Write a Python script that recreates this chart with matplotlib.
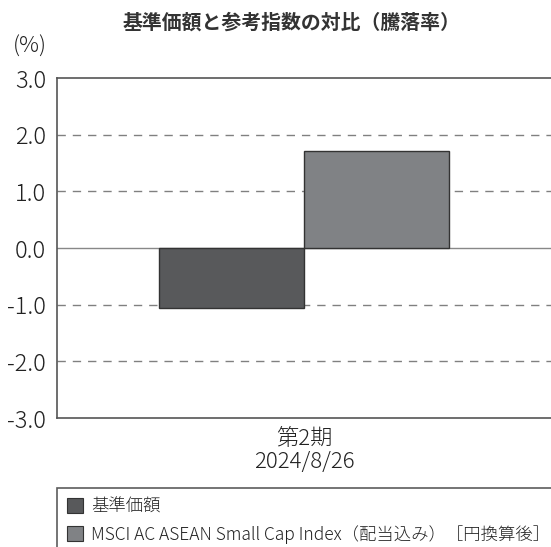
import matplotlib.pyplot as plt
from matplotlib.patches import Patch

plt.rcParams['font.family'] = ['Noto Sans CJK JP', 'DejaVu Sans']

# data
series = ['基準価額', 'MSCI AC ASEAN Small Cap Index（配当込み）［円換算後］']
values = [-1.06, 1.72]
colors = ['#58595b', '#808285']
category = '第2期\n2024/8/26'
yticks = [3.0, 2.0, 1.0, 0.0, -1.0, -2.0, -3.0]

fig = plt.figure(figsize=(5.51, 5.47), dpi=100)
ax = fig.add_axes([57 / 551, 1 - 418 / 547, 1 - 57 / 551, (418 - 78) / 547])

w = 0.587
xs = [-w / 2, w / 2]
for x, v, c in zip(xs, values, colors):
    ax.bar(x, v, width=w, color=c, edgecolor='#333333', linewidth=1.0, zorder=3)

# grid lines
for t in yticks:
    if t == 0.0:
        ax.axhline(t, color='#888888', linewidth=1.0, zorder=2)
    elif abs(t) < 3:
        ax.axhline(t, color='#808080', linewidth=1.0, dashes=(6, 5), zorder=1)

ax.set_xlim(-1, 1)
ax.set_ylim(-3, 3)
ax.set_yticks(yticks)
ax.set_yticklabels([f'{t:.1f}' for t in yticks], fontsize=17, color='#222222', fontweight='light')
ax.set_xticks([0])
ax.set_xticklabels([category], fontsize=16, color='#222222', linespacing=1.05, fontweight='light')
ax.tick_params(axis='y', length=0, pad=8)
ax.tick_params(axis='x', length=0, pad=7)

for s in ['top', 'bottom', 'left']:
    ax.spines[s].set_color('#555555')
    ax.spines[s].set_linewidth(1.2)
ax.spines['right'].set_visible(False)

fig.text(291 / 551, 1 - 22 / 547, '基準価額と参考指数の対比（騰落率）', ha='center', va='center',
         fontsize=14.3, fontweight='bold', color='#333333')
fig.text(30 / 551, 1 - 47 / 547, '(%)', ha='center', va='center', fontsize=16,
         color='#222222', fontweight='light')

handles = [Patch(facecolor=c, edgecolor='#333333', linewidth=0.8) for c in colors]
leg = fig.legend(handles, series, loc='upper left', bbox_to_anchor=(57 / 551, 1 - 488 / 547),
                 borderaxespad=0, fontsize=12.5, frameon=True, fancybox=False,
                 handlelength=0.95, handleheight=0.95, handletextpad=0.45, labelspacing=0.55,
                 borderpad=0.55, labelcolor='#222222', prop={'weight': 'light', 'size': 12.5})
leg.get_frame().set_edgecolor('#333333')
leg.get_frame().set_linewidth(1.2)

fig.savefig('out.png', dpi=100)
